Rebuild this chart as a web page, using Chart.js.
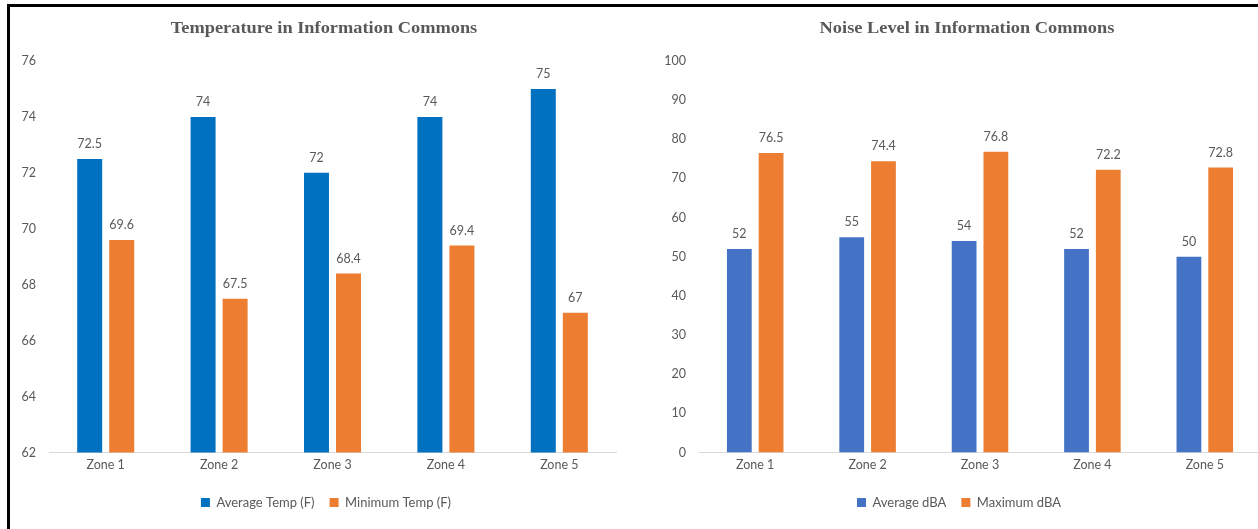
<!DOCTYPE html>
<html>
<head>
<meta charset="utf-8">
<script src="https://cdn.jsdelivr.net/npm/chart.js@4.4.1/dist/chart.umd.min.js"></script>
<style>
  html, body { margin: 0; padding: 0; background: #fff; overflow: hidden; }
  body { width: 1258px; height: 529px; position: relative; }
  #frameTop { position: absolute; left: 7px; top: 4px; width: 1251px; height: 3px; background: #000; }
  #frameLeft { position: absolute; left: 7px; top: 4px; width: 3px; height: 525px; background: #000; }
  .box { position: absolute; top: 7px; height: 522px; }
  #leftBox { left: 10px; width: 632px; }
  #rightBox { left: 640px; width: 640px; }
  .title {
    position: absolute; top: 18px; width: 400px; margin-left: -200px;
    text-align: center; line-height: 20px;
    font: bold 17px "Liberation Serif", serif; color: #595959;
    transform: scaleX(1.08); white-space: nowrap;
  }
  #leftTitle { left: 324px; }
  #rightTitle { left: 967px; }
</style>
</head>
<body>
<div id="frameTop"></div>
<div id="frameLeft"></div>
<div class="box" id="leftBox"><canvas id="tempChart"></canvas></div>
<div class="box" id="rightBox"><canvas id="noiseChart"></canvas></div>
<div class="title" id="leftTitle">Temperature in Information Commons</div>
<div class="title" id="rightTitle">Noise Level in Information Commons</div>
<script>
const zones = ["Zone 1", "Zone 2", "Zone 3", "Zone 4", "Zone 5"];

const avgTemp = [72.5, 74, 72, 74, 75];
const minTemp = [69.6, 67.5, 68.4, 69.4, 67];
const tempTicks = [62, 64, 66, 68, 70, 72, 74, 76];

const avgNoise = [52, 55, 54, 52, 50];
const maxNoise = [76.5, 74.4, 76.8, 72.2, 72.8];
const noiseTicks = [0, 10, 20, 30, 40, 50, 60, 70, 80, 90, 100];

const textGray = "#595959";
const axisFont = "Lato, 'Liberation Sans', sans-serif";

// draws the value above each bar
const barValues = {
    id: "barValues",
    afterDatasetsDraw(chart) {
        const ctx = chart.ctx;
        ctx.save();
        ctx.fillStyle = textGray;
        ctx.font = "12.5px " + axisFont;
        ctx.textAlign = "center";
        ctx.textBaseline = "middle";
        chart.data.datasets.forEach((ds, i) => {
            chart.getDatasetMeta(i).data.forEach((bar, j) => {
                ctx.fillText(String(ds.data[j]), bar.x, bar.y - 15);
            });
        });
        ctx.restore();
    }
};

// padLeft / spacer widths only move the legend centre, the plot stays put
function makeChart(id, labels, values, colors, ticks, padLeft, yWidth, spacer, padRight) {
    const ctx = document.getElementById(id).getContext("2d");
    return new Chart(ctx, {
        type: "bar",
        data: {
            labels: zones,
            datasets: [
                { label: labels[0], data: values[0], backgroundColor: colors[0], categoryPercentage: 0.565, barPercentage: 0.78 },
                { label: labels[1], data: values[1], backgroundColor: colors[1], categoryPercentage: 0.565, barPercentage: 0.78 }
            ]
        },
        options: {
            responsive: true,
            maintainAspectRatio: false,
            animation: false,
            layout: { padding: { left: padLeft, right: padRight, top: 54, bottom: 10 } },
            scales: {
                x: {
                    afterFit: (scale) => { scale.height = 28.5; },
                    grid: { display: false, drawTicks: false },
                    border: { color: "#d9d9d9", width: 1 },
                    ticks: { color: textGray, font: { family: axisFont, size: 12.5 }, padding: 5 }
                },
                y: {
                    min: ticks[0],
                    max: ticks[ticks.length - 1],
                    afterBuildTicks: (scale) => { scale.ticks = ticks.map(v => ({ value: v })); },
                    afterFit: (scale) => { scale.width = yWidth; },
                    grid: { display: false, drawTicks: false },
                    border: { display: false },
                    ticks: { color: textGray, font: { family: axisFont, size: 12.5 }, padding: 13 }
                },
                spacer: {
                    type: "linear",
                    position: "right",
                    display: spacer > 0,
                    afterFit: (scale) => { scale.width = spacer; },
                    grid: { display: false, drawTicks: false },
                    border: { display: false },
                    ticks: { display: false }
                }
            },
            plugins: {
                legend: {
                    position: "bottom",
                    labels: {
                        color: textGray,
                        font: { family: axisFont, size: 13 },
                        boxWidth: 9,
                        boxHeight: 9,
                        padding: 15
                    }
                },
                tooltip: { enabled: false }
            }
        },
        plugins: [barValues]
    });
}

makeChart("tempChart", ["Average Temp (F)", "Minimum Temp (F)"], [avgTemp, minTemp],
    ["#0070C0", "#ED7D31"], tempTicks, 0, 39, 26, 0);

makeChart("noiseChart", ["Average dBA", "Maximum dBA"], [avgNoise, maxNoise],
    ["#4472C4", "#ED7D31"], noiseTicks, 17, 42, 0, 19);
</script>
</body>
</html>
